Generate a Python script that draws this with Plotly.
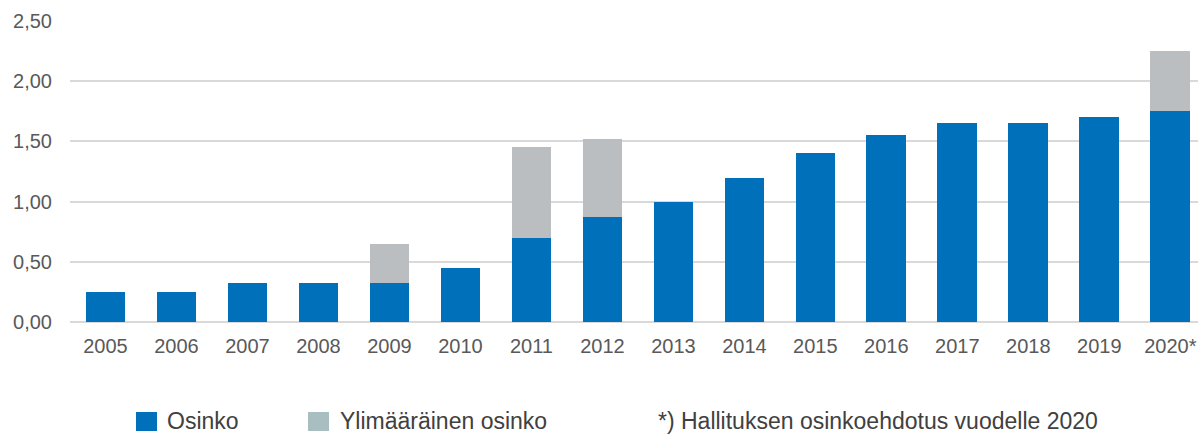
import plotly.graph_objects as go

years = ["2005", "2006", "2007", "2008", "2009", "2010", "2011", "2012",
         "2013", "2014", "2015", "2016", "2017", "2018", "2019", "2020*"]
osinko = [0.25, 0.25, 0.32, 0.32, 0.32, 0.45, 0.70, 0.87,
          1.00, 1.20, 1.40, 1.55, 1.65, 1.65, 1.70, 1.75]
ylim = [0, 0, 0, 0, 0.33, 0, 0.75, 0.65,
        0, 0, 0, 0, 0, 0, 0, 0.50]
y_ticks = [0, 0.5, 1.0, 1.5, 2.0, 2.5]
y_tick_labels = ["0,00", "0,50", "1,00", "1,50", "2,00", "2,50"]
legend_labels = ["Osinko", "Ylimääräinen osinko"]
footnote = "*) Hallituksen osinkoehdotus vuodelle 2020"

BLUE = "#0070BA"
GREY = "#BABEC1"
LEG_GREY = "#A9BEC0"
TXT = "#595959"
FONT = "Liberation Sans, Arial, sans-serif"

fig = go.Figure()
fig.add_trace(go.Bar(x=years, y=osinko, name=legend_labels[0], marker_color=BLUE,
                     marker_line_width=0, width=0.56))
fig.add_trace(go.Bar(x=years, y=ylim, name=legend_labels[1], marker_color=GREY,
                     marker_line_width=0, width=0.56))

fig.update_layout(
    barmode="stack",
    width=1198, height=436,
    margin=dict(l=70, r=0, t=21, b=114),
    paper_bgcolor="white", plot_bgcolor="white",
    showlegend=False,
    font=dict(family=FONT, size=20, color=TXT),
    xaxis=dict(type="category", range=[-0.5, 15.39], showgrid=False,
               showline=False, ticks="", ticklabelstandoff=10,
               tickfont=dict(size=20, color=TXT)),
    yaxis=dict(range=[0, 2.5], tickvals=y_ticks, ticktext=y_tick_labels,
               showgrid=True, gridcolor="#D9D9D9", gridwidth=2,
               zeroline=True, zerolinecolor="#D9D9D9", zerolinewidth=2,
               ticks="", ticklabelstandoff=17, tickfont=dict(size=20, color=TXT)),
)

# Legend drawn manually: squares + labels
for x0, col in [(66, BLUE), (238, LEG_GREY)]:
    fig.add_shape(type="rect", xref="paper", yref="paper",
                  xsizemode="pixel", ysizemode="pixel", xanchor=0, yanchor=0,
                  x0=x0, x1=x0 + 21, y0=-109, y1=-90,
                  fillcolor=col, line_width=0)

for xpx, txt in [(95, legend_labels[0]), (268, legend_labels[1]), (586, footnote)]:
    fig.add_annotation(xref="paper", yref="paper", x=0, y=0, xshift=xpx, yshift=-99,
                       xanchor="left", yanchor="middle", showarrow=False,
                       text=txt, font=dict(size=23, color="#404040", family=FONT))

fig.write_html("out.html")
